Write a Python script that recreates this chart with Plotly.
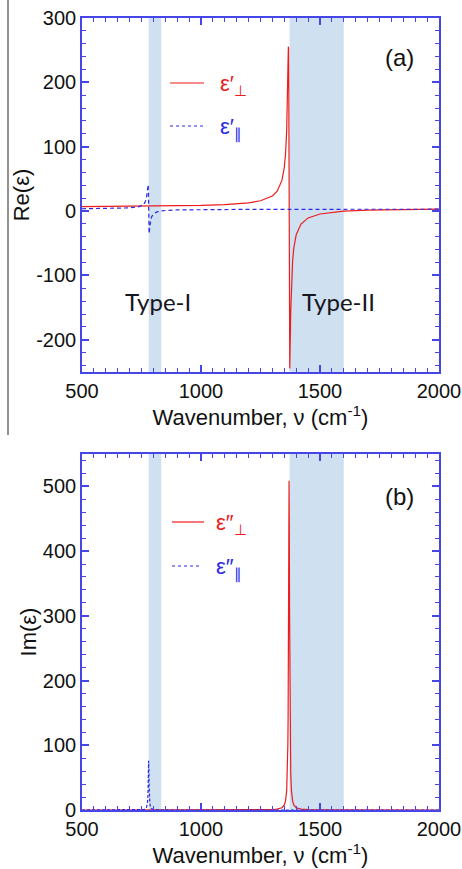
import plotly.graph_objects as go

# ---------------- data ----------------
# Panel (a): Re(eps) perpendicular (red, solid)
re_perp_x = [500, 600, 700, 800, 900, 1000, 1100, 1200, 1250, 1300, 1320, 1340, 1350, 1355,
             1360, 1363, 1366, 1367, 1368, 1369, 1370, 1371, 1372, 1373, 1374, 1377, 1380,
             1385, 1390, 1400, 1420, 1450, 1500, 1550, 1600, 1700, 1800, 1900, 2000]
re_perp_y = [7.0, 7.2, 7.4, 7.7, 8.1, 8.8, 10.1, 12.8, 16.0, 23.5, 30.8, 47.7, 67.9, 87.8,
             125.0, 166.4, 234.0, 255.5, 253.3, 180.4, 4.9, -170.3, -242.8, -244.7, -223.1,
             -155.7, -114.3, -77.1, -57.3, -36.8, -20.1, -10.6, -4.5, -1.8, -0.2, 1.4, 2.3,
             2.9, 3.2]

# Panel (a): Re(eps) parallel (blue, dashed)
re_par_x = [500, 600, 700, 740, 760, 770, 775, 777, 778, 779, 780, 781, 782, 783, 785, 788,
            792, 800, 815, 830, 850, 900, 1000, 1200, 1500, 2000]
re_par_y = [3.6, 3.9, 5.0, 6.9, 10.6, 17.7, 29.3, 38.2, 41.1, 33.4, 3.0, -27.4, -35.0, -32.1,
            -23.2, -14.9, -9.3, -4.5, -1.3, 0.0, 0.9, 1.8, 2.3, 2.7, 2.8, 2.9]

# Panel (b): Im(eps) perpendicular (red, solid)
im_perp_x = [500, 1000, 1200, 1300, 1320, 1340, 1350, 1355, 1360, 1363, 1365, 1366, 1367,
             1368, 1369, 1370, 1371, 1372, 1373, 1374, 1375, 1377, 1380, 1385, 1390, 1400,
             1420, 1450, 1600, 2000]
im_perp_y = [0.0, 0.02, 0.1, 0.65, 1.3, 3.5, 7.8, 13.7, 29.9, 57.6, 101.8, 143.0, 208.6,
             310.3, 438.7, 508.5, 438.1, 309.8, 208.2, 142.7, 101.6, 57.5, 29.9, 13.7, 7.8,
             3.5, 1.3, 0.5, 0.06, 0.0]

# Panel (b): Im(eps) parallel (blue, dashed)
im_par_x = [500, 700, 740, 760, 770, 775, 777, 778, 779, 780, 781, 782, 783, 785, 788, 792,
            800, 830, 900, 2000]
im_par_y = [0.0, 0.05, 0.2, 0.75, 2.9, 10.5, 23.4, 38.1, 60.9, 76.1, 60.8, 38.0, 23.4, 10.5,
            4.5, 2.1, 0.75, 0.1, 0.02, 0.0]

# Reststrahlen bands (cm^-1)
band_type1 = [780, 833]
band_type2 = [1372, 1600]

# Tick labels
x_tickvals = [500, 1000, 1500, 2000]
x_ticktext = ["500", "1000", "1500", "2000"]
ya_tickvals = [-200, -100, 0, 100, 200, 300]
ya_ticktext = ["-200", "-100", "0", "100", "200", "300"]
yb_tickvals = [0, 100, 200, 300, 400, 500]
yb_ticktext = ["0", "100", "200", "300", "400", "500"]

# ---------------- styling ----------------
W, H = 462, 869
RED = "#ee1c1c"
BLUE = "#2a2ae6"
AXIS = "#4646e6"
BAND = "#cfe0f1"
FONT = "Liberation Sans, Arial, sans-serif"


def px_x(p):
    return p / W


def px_y(p):
    return 1 - p / H


fig = go.Figure()

fig.add_trace(go.Scatter(x=re_perp_x, y=re_perp_y, mode="lines", xaxis="x", yaxis="y",
                         line=dict(color=RED, width=1.2), showlegend=False))
fig.add_trace(go.Scatter(x=re_par_x, y=re_par_y, mode="lines", xaxis="x", yaxis="y",
                         line=dict(color=BLUE, width=1.2, dash="4px,3px"), showlegend=False))
fig.add_trace(go.Scatter(x=im_perp_x, y=im_perp_y, mode="lines", xaxis="x2", yaxis="y2",
                         line=dict(color=RED, width=1.2), showlegend=False))
fig.add_trace(go.Scatter(x=im_par_x, y=im_par_y, mode="lines", xaxis="x2", yaxis="y2",
                         line=dict(color=BLUE, width=1.2, dash="3px,2px"), showlegend=False))

xdom = [82 / W, 439 / W]
ya_dom = [px_y(372), px_y(18)]
yb_dom = [px_y(810), px_y(454)]

common_axis = dict(
    showline=True, linecolor=AXIS, linewidth=1.6, mirror="allticks",
    ticks="inside", ticklen=7, tickwidth=1.5, tickcolor=AXIS,
    showgrid=False, zeroline=False, automargin=False,
    tickfont=dict(family=FONT, size=20, color="#111111"),
)

xtitle = dict(text="Wavenumber, \u03bd (cm<sup>-1</sup>)",
              font=dict(family=FONT, size=22, color="#111111"), standoff=0)

fig.update_layout(
    width=W, height=H,
    margin=dict(l=0, r=0, t=0, b=0, autoexpand=False),
    paper_bgcolor="white", plot_bgcolor="white",
    showlegend=False,
    xaxis=dict(domain=xdom, anchor="y", range=[500, 2000],
               tickvals=x_tickvals, ticktext=x_ticktext,
               minor=dict(dtick=50, tick0=500, ticklen=4, tickcolor=AXIS, tickwidth=1.2,
                          ticks="inside", showgrid=False),
               title=xtitle, **common_axis),
    yaxis=dict(domain=ya_dom, anchor="x", range=[-250, 300],
               tickvals=ya_tickvals, ticktext=ya_ticktext,
               minor=dict(dtick=20, tick0=0, ticklen=4, tickcolor=AXIS, tickwidth=1.2,
                          ticks="inside", showgrid=False),
               title=dict(text="Re(\u03b5)", font=dict(family=FONT, size=22, color="#111111"),
                          standoff=0),
               **common_axis),
    xaxis2=dict(domain=xdom, anchor="y2", range=[500, 2000],
                tickvals=x_tickvals, ticktext=x_ticktext,
                minor=dict(dtick=50, tick0=500, ticklen=4, tickcolor=AXIS, tickwidth=1.2,
                           ticks="inside", showgrid=False),
                title=xtitle, **common_axis),
    yaxis2=dict(domain=yb_dom, anchor="x2", range=[0, 550],
                tickvals=yb_tickvals, ticktext=yb_ticktext,
                minor=dict(dtick=20, tick0=0, ticklen=4, tickcolor=AXIS, tickwidth=1.2,
                           ticks="inside", showgrid=False),
                title=dict(text="Im(\u03b5)", font=dict(family=FONT, size=22, color="#111111"),
                           standoff=0),
                **common_axis),
)

shapes = []
for xr, yr in (("x", "y domain"), ("x2", "y2 domain")):
    for band in (band_type1, band_type2):
        shapes.append(dict(type="rect", xref=xr, yref=yr, x0=band[0], x1=band[1], y0=0, y1=1,
                           fillcolor=BAND, line=dict(width=0), layer="below"))

# left gray rule next to panel (a)
shapes.append(dict(type="line", xref="paper", yref="paper", x0=px_x(8), x1=px_x(8),
                   y0=px_y(0), y1=px_y(435), line=dict(color="#6e6e6e", width=1.5)))

# legend samples
shapes.append(dict(type="line", xref="paper", yref="paper", x0=px_x(170), x1=px_x(204),
                   y0=px_y(83), y1=px_y(83), line=dict(color=RED, width=1.2)))
shapes.append(dict(type="line", xref="paper", yref="paper", x0=px_x(170), x1=px_x(204),
                   y0=px_y(126), y1=px_y(126), line=dict(color=BLUE, width=1.2, dash="3px,3px")))
shapes.append(dict(type="line", xref="paper", yref="paper", x0=px_x(172), x1=px_x(204),
                   y0=px_y(522), y1=px_y(522), line=dict(color=RED, width=1.2)))
shapes.append(dict(type="line", xref="paper", yref="paper", x0=px_x(172), x1=px_x(200),
                   y0=px_y(566), y1=px_y(566), line=dict(color=BLUE, width=1.2, dash="3px,3px")))
fig.update_layout(shapes=shapes)


def ann(text, x, y, size, color="#111111", xanchor="center", family=FONT):
    return dict(text=text, x=px_x(x), y=px_y(y), xref="paper", yref="paper",
                showarrow=False, xanchor=xanchor, yanchor="middle",
                font=dict(family=family, size=size, color=color))


annotations = [
    ann("(a)", 399, 58, 24),
    ann("(b)", 399, 496, 24),
    ann("\u03b5\u2032<sub>\u22a5</sub>", 218, 85, 22, RED, "left"),
    ann("\u03b5\u2032<sub>\u2225</sub>", 218, 128, 22, BLUE, "left"),
    ann("\u03b5\u2033<sub>\u22a5</sub>", 214, 524, 22, RED, "left"),
    ann("\u03b5\u2033<sub>\u2225</sub>", 214, 568, 22, BLUE, "left"),
    ann("Type-I", 158, 301, 24, "#16161e", "center", "Lato, Open Sans, sans-serif"),
    ann("Type-II", 338, 301, 24, "#16161e", "center", "Lato, Open Sans, sans-serif"),
]
fig.update_layout(annotations=annotations)

fig.write_html(
    "out.html",
    config={"displayModeBar": False},
    post_script="document.body.style.margin='0';document.body.style.overflow='hidden';",
)
